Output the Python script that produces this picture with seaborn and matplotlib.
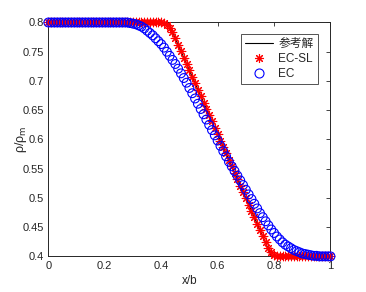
# rarefaction profile: reference vs EC-SL vs EC
import matplotlib
matplotlib.use('Agg')
import matplotlib.pyplot as plt
from matplotlib.lines import Line2D
import numpy as np
import pandas as pd
import seaborn as sns

# grid points x/b
x = [0.00, 0.01, 0.02, 0.03, 0.04, 0.05, 0.06, 0.07, 0.08, 0.09,
     0.10, 0.11, 0.12, 0.13, 0.14, 0.15, 0.16, 0.17, 0.18, 0.19,
     0.20, 0.21, 0.22, 0.23, 0.24, 0.25, 0.26, 0.27, 0.28, 0.29,
     0.30, 0.31, 0.32, 0.33, 0.34, 0.35, 0.36, 0.37, 0.38, 0.39,
     0.40, 0.41, 0.42, 0.43, 0.44, 0.45, 0.46, 0.47, 0.48, 0.49,
     0.50, 0.51, 0.52, 0.53, 0.54, 0.55, 0.56, 0.57, 0.58, 0.59,
     0.60, 0.61, 0.62, 0.63, 0.64, 0.65, 0.66, 0.67, 0.68, 0.69,
     0.70, 0.71, 0.72, 0.73, 0.74, 0.75, 0.76, 0.77, 0.78, 0.79,
     0.80, 0.81, 0.82, 0.83, 0.84, 0.85, 0.86, 0.87, 0.88, 0.89,
     0.90, 0.91, 0.92, 0.93, 0.94, 0.95, 0.96, 0.97, 0.98, 0.99, 1.00]

# EC-SL (red asterisks)
ec_sl = [0.800, 0.800, 0.800, 0.800, 0.800, 0.800, 0.800, 0.800, 0.800, 0.800,
         0.800, 0.800, 0.800, 0.800, 0.800, 0.800, 0.800, 0.800, 0.800, 0.800,
         0.800, 0.800, 0.800, 0.800, 0.800, 0.800, 0.800, 0.800, 0.800, 0.800,
         0.800, 0.800, 0.800, 0.800, 0.800, 0.800, 0.800, 0.800, 0.800, 0.800,
         0.800, 0.799, 0.796, 0.791, 0.783, 0.773, 0.762, 0.751, 0.740, 0.729,
         0.718, 0.707, 0.696, 0.685, 0.674, 0.663, 0.652, 0.642, 0.631, 0.620,
         0.609, 0.598, 0.587, 0.576, 0.565, 0.554, 0.543, 0.532, 0.521, 0.510,
         0.499, 0.488, 0.478, 0.467, 0.456, 0.445, 0.434, 0.425, 0.415, 0.407,
         0.403, 0.401, 0.400, 0.400, 0.400, 0.400, 0.400, 0.400, 0.400, 0.400,
         0.400, 0.400, 0.400, 0.400, 0.400, 0.400, 0.400, 0.400, 0.400, 0.400, 0.400]

# EC (blue circles)
ec = [0.800, 0.800, 0.800, 0.800, 0.800, 0.800, 0.800, 0.800, 0.800, 0.800,
      0.800, 0.800, 0.800, 0.800, 0.800, 0.800, 0.800, 0.800, 0.800, 0.800,
      0.800, 0.800, 0.800, 0.800, 0.800, 0.800, 0.800, 0.800, 0.800, 0.799,
      0.798, 0.797, 0.795, 0.793, 0.790, 0.786, 0.782, 0.778, 0.773, 0.768,
      0.763, 0.757, 0.750, 0.743, 0.736, 0.729, 0.721, 0.713, 0.705, 0.697,
      0.688, 0.679, 0.670, 0.661, 0.652, 0.643, 0.634, 0.625, 0.616, 0.607,
      0.598, 0.589, 0.580, 0.571, 0.562, 0.554, 0.546, 0.538, 0.530, 0.522,
      0.514, 0.506, 0.498, 0.490, 0.482, 0.474, 0.467, 0.460, 0.453, 0.446,
      0.440, 0.434, 0.429, 0.424, 0.420, 0.417, 0.414, 0.411, 0.409, 0.407,
      0.405, 0.404, 0.403, 0.402, 0.401, 0.401, 0.400, 0.400, 0.400, 0.400, 0.400]

# reference solution (参考解)
ref_x = [0.0, 0.425, 0.791, 1.0]
ref_y = [0.8, 0.8, 0.4, 0.4]

df = pd.DataFrame({'x': x, 'EC-SL': ec_sl, 'EC': ec})
ref = pd.DataFrame({'x': ref_x, 'y': ref_y})

RED = '#FF0000'
BLUE = '#0000FF'
INK = '#262626'

sns.set_theme(style='white')
plt.rcParams['font.family'] = ['Liberation Sans', 'Noto Sans CJK SC', 'DejaVu Sans']
plt.rcParams['xtick.direction'] = 'in'
plt.rcParams['ytick.direction'] = 'in'

fig = plt.figure(figsize=(3.66, 2.92), dpi=100)
ax = fig.add_axes([0.132, 0.122, 0.771, 0.801])

sns.lineplot(data=ref, x='x', y='y', color='#000000', linewidth=0.8, ax=ax)
sns.scatterplot(data=df, x='x', y='EC-SL', marker=(8, 2, 0), color=RED,
                s=38, linewidth=0.8, clip_on=False, zorder=3, ax=ax)
sns.scatterplot(data=df, x='x', y='EC', marker='o', facecolor='none',
                edgecolor=BLUE, s=40, linewidth=0.8, clip_on=False, zorder=4, ax=ax)

ax.set_xlim(0, 1)
ax.set_ylim(0.4, 0.8)
ax.set_xticks([0, 0.2, 0.4, 0.6, 0.8, 1])
ax.set_xticklabels(['0', '0.2', '0.4', '0.6', '0.8', '1'])
ax.set_yticks([0.4, 0.45, 0.5, 0.55, 0.6, 0.65, 0.7, 0.75, 0.8])
ax.set_yticklabels(['0.4', '0.45', '0.5', '0.55', '0.6', '0.65', '0.7', '0.75', '0.8'])
ax.tick_params(axis='both', which='both', top=True, right=True, length=3,
               width=0.6, color=INK, labelsize=8, labelcolor=INK, pad=3)
for sp in ax.spines.values():
    sp.set_color(INK)
    sp.set_linewidth(0.7)

ax.set_xlabel('x/b', fontsize=8.5, color=INK, labelpad=3)
ax.set_ylabel('ρ/ρ$_{\\mathrm{m}}$', fontsize=9, color=INK)
ax.yaxis.set_label_coords(-0.068, 0.5)

handles = [
    Line2D([], [], color='#000000', linewidth=0.8),
    Line2D([], [], color=RED, marker=(8, 2, 0), linestyle='', markersize=6.5, markeredgewidth=0.8),
    Line2D([], [], color=BLUE, marker='o', linestyle='', markerfacecolor='none',
           markersize=6.5, markeredgewidth=0.8),
]
leg = ax.legend(handles, ['参考解', 'EC-SL', 'EC'], loc='upper right',
                bbox_to_anchor=(0.955, 0.95), borderaxespad=0, fontsize=8.5,
                frameon=True, fancybox=False, handlelength=2.3, handletextpad=0.5,
                borderpad=0.35, labelspacing=0.25)
leg.get_frame().set_edgecolor(INK)
leg.get_frame().set_linewidth(0.7)

fig.savefig('out.png', dpi=100)
